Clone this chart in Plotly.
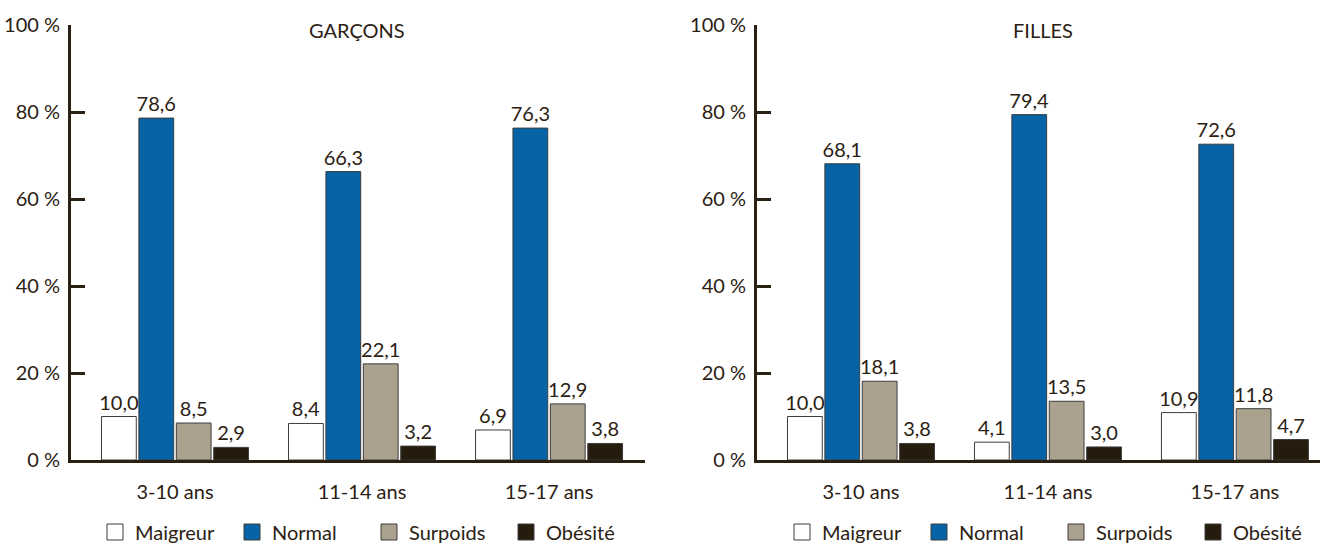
import plotly.graph_objects as go

categories = ["3-10 ans", "11-14 ans", "15-17 ans"]
series_names = ["Maigreur", "Normal", "Surpoids", "Obésité"]
garcons_maigreur = [10.0, 8.4, 6.9]
garcons_normal = [78.6, 66.3, 76.3]
garcons_surpoids = [8.5, 22.1, 12.9]
garcons_obesite = [2.9, 3.2, 3.8]
filles_maigreur = [10.0, 4.1, 10.9]
filles_normal = [68.1, 79.4, 72.6]
filles_surpoids = [18.1, 13.5, 11.8]
filles_obesite = [3.8, 3.0, 4.7]
y_tickvals = [0, 20, 40, 60, 80, 100]
y_ticktext = ["0 %", "20 %", "40 %", "60 %", "80 %", "100 %"]
panel_titles = ["GARÇONS", "FILLES"]

colors = ["#ffffff", "#0563a6", "#aaa28e", "#251c0e"]
ink = "#2b2113"
FONT = "Lato"

W, H = 1320, 547
ML, MR, MT, MB = 71, 0, 25, 87
PW, PH = W - ML - MR, H - MT - MB

def px_x(p):
    return (p - ML) / PW

def px_y(p):
    return (H - MB - p) / PH

fig = go.Figure()

def fmt(v):
    return f"{v:.1f}".replace(".", ",")

panels = [
    ([garcons_maigreur, garcons_normal, garcons_surpoids, garcons_obesite], "x", "y", "legend"),
    ([filles_maigreur, filles_normal, filles_surpoids, filles_obesite], "x2", "y2", "legend2"),
]
for data, xa, ya, lg in panels:
    for name, vals, col in zip(series_names, data, colors):
        fig.add_trace(go.Bar(
            x=categories, y=vals, name=name, xaxis=xa, yaxis=ya,
            marker=dict(color=col, line=dict(color="#3c3c3c", width=1)),
            text=[fmt(v) for v in vals], textposition="outside",
            textfont=dict(family=FONT, size=20, color=ink),
            constraintext="none", cliponaxis=False, showlegend=False,
        ))
    for name, col in zip(series_names, colors):
        fig.add_trace(go.Scatter(
            x=[None], y=[None], name=name, mode="markers", xaxis=xa, yaxis=ya,
            marker=dict(symbol="square", size=16, color=col, line=dict(color="#3c3c3c", width=1)),
            legend=lg, showlegend=True,
        ))

xdom1 = [0.0, px_x(645)]
xdom2 = [px_x(757), 1.0]

xcommon = dict(type="category", showline=True, linewidth=3, linecolor=ink, ticks="",
               showgrid=False, zeroline=False, tickfont=dict(family=FONT, size=20, color=ink),
               ticklabelstandoff=12, fixedrange=True)
ycommon = dict(range=[0, 100], tickvals=y_tickvals, ticktext=y_ticktext, showline=True,
               linewidth=3, linecolor=ink, ticks="inside", ticklen=14, tickwidth=3, tickcolor=ink,
               showgrid=False, zeroline=False, tickfont=dict(family=FONT, size=20, color=ink),
               ticklabelstandoff=4, fixedrange=True)

leg_y = px_y(532)
fig.update_layout(
    width=W, height=H, margin=dict(l=ML, r=MR, t=MT, b=MB, autoexpand=False),
    paper_bgcolor="white", plot_bgcolor="white",
    barmode="group", bargap=0.2, bargroupgap=0.07,
    font=dict(family=FONT, color=ink),
    xaxis=dict(domain=xdom1, anchor="y", range=[-0.556, 2.513], **xcommon),
    yaxis=dict(domain=[0, 1], anchor="x", **ycommon),
    xaxis2=dict(domain=xdom2, anchor="y2", range=[-0.556, 2.455], **xcommon),
    yaxis2=dict(domain=[0, 1], anchor="x2", **ycommon),
    legend=dict(orientation="h", x=px_x(95), xanchor="left", y=leg_y, yanchor="middle",
                entrywidth=92, font=dict(family=FONT, size=20, color=ink), bgcolor="rgba(0,0,0,0)"),
    legend2=dict(orientation="h", x=px_x(782), xanchor="left", y=leg_y, yanchor="middle",
                 entrywidth=92, font=dict(family=FONT, size=20, color=ink), bgcolor="rgba(0,0,0,0)"),
    annotations=[
        dict(text=panel_titles[0], x=px_x(357), y=px_y(30), xref="paper", yref="paper",
             xanchor="center", yanchor="middle",
             showarrow=False, font=dict(family=FONT, size=20, color=ink)),
        dict(text=panel_titles[1], x=px_x(1043), y=px_y(30), xref="paper", yref="paper",
             xanchor="center", yanchor="middle",
             showarrow=False, font=dict(family=FONT, size=20, color=ink)),
    ],
)

fig.write_html("out.html")
